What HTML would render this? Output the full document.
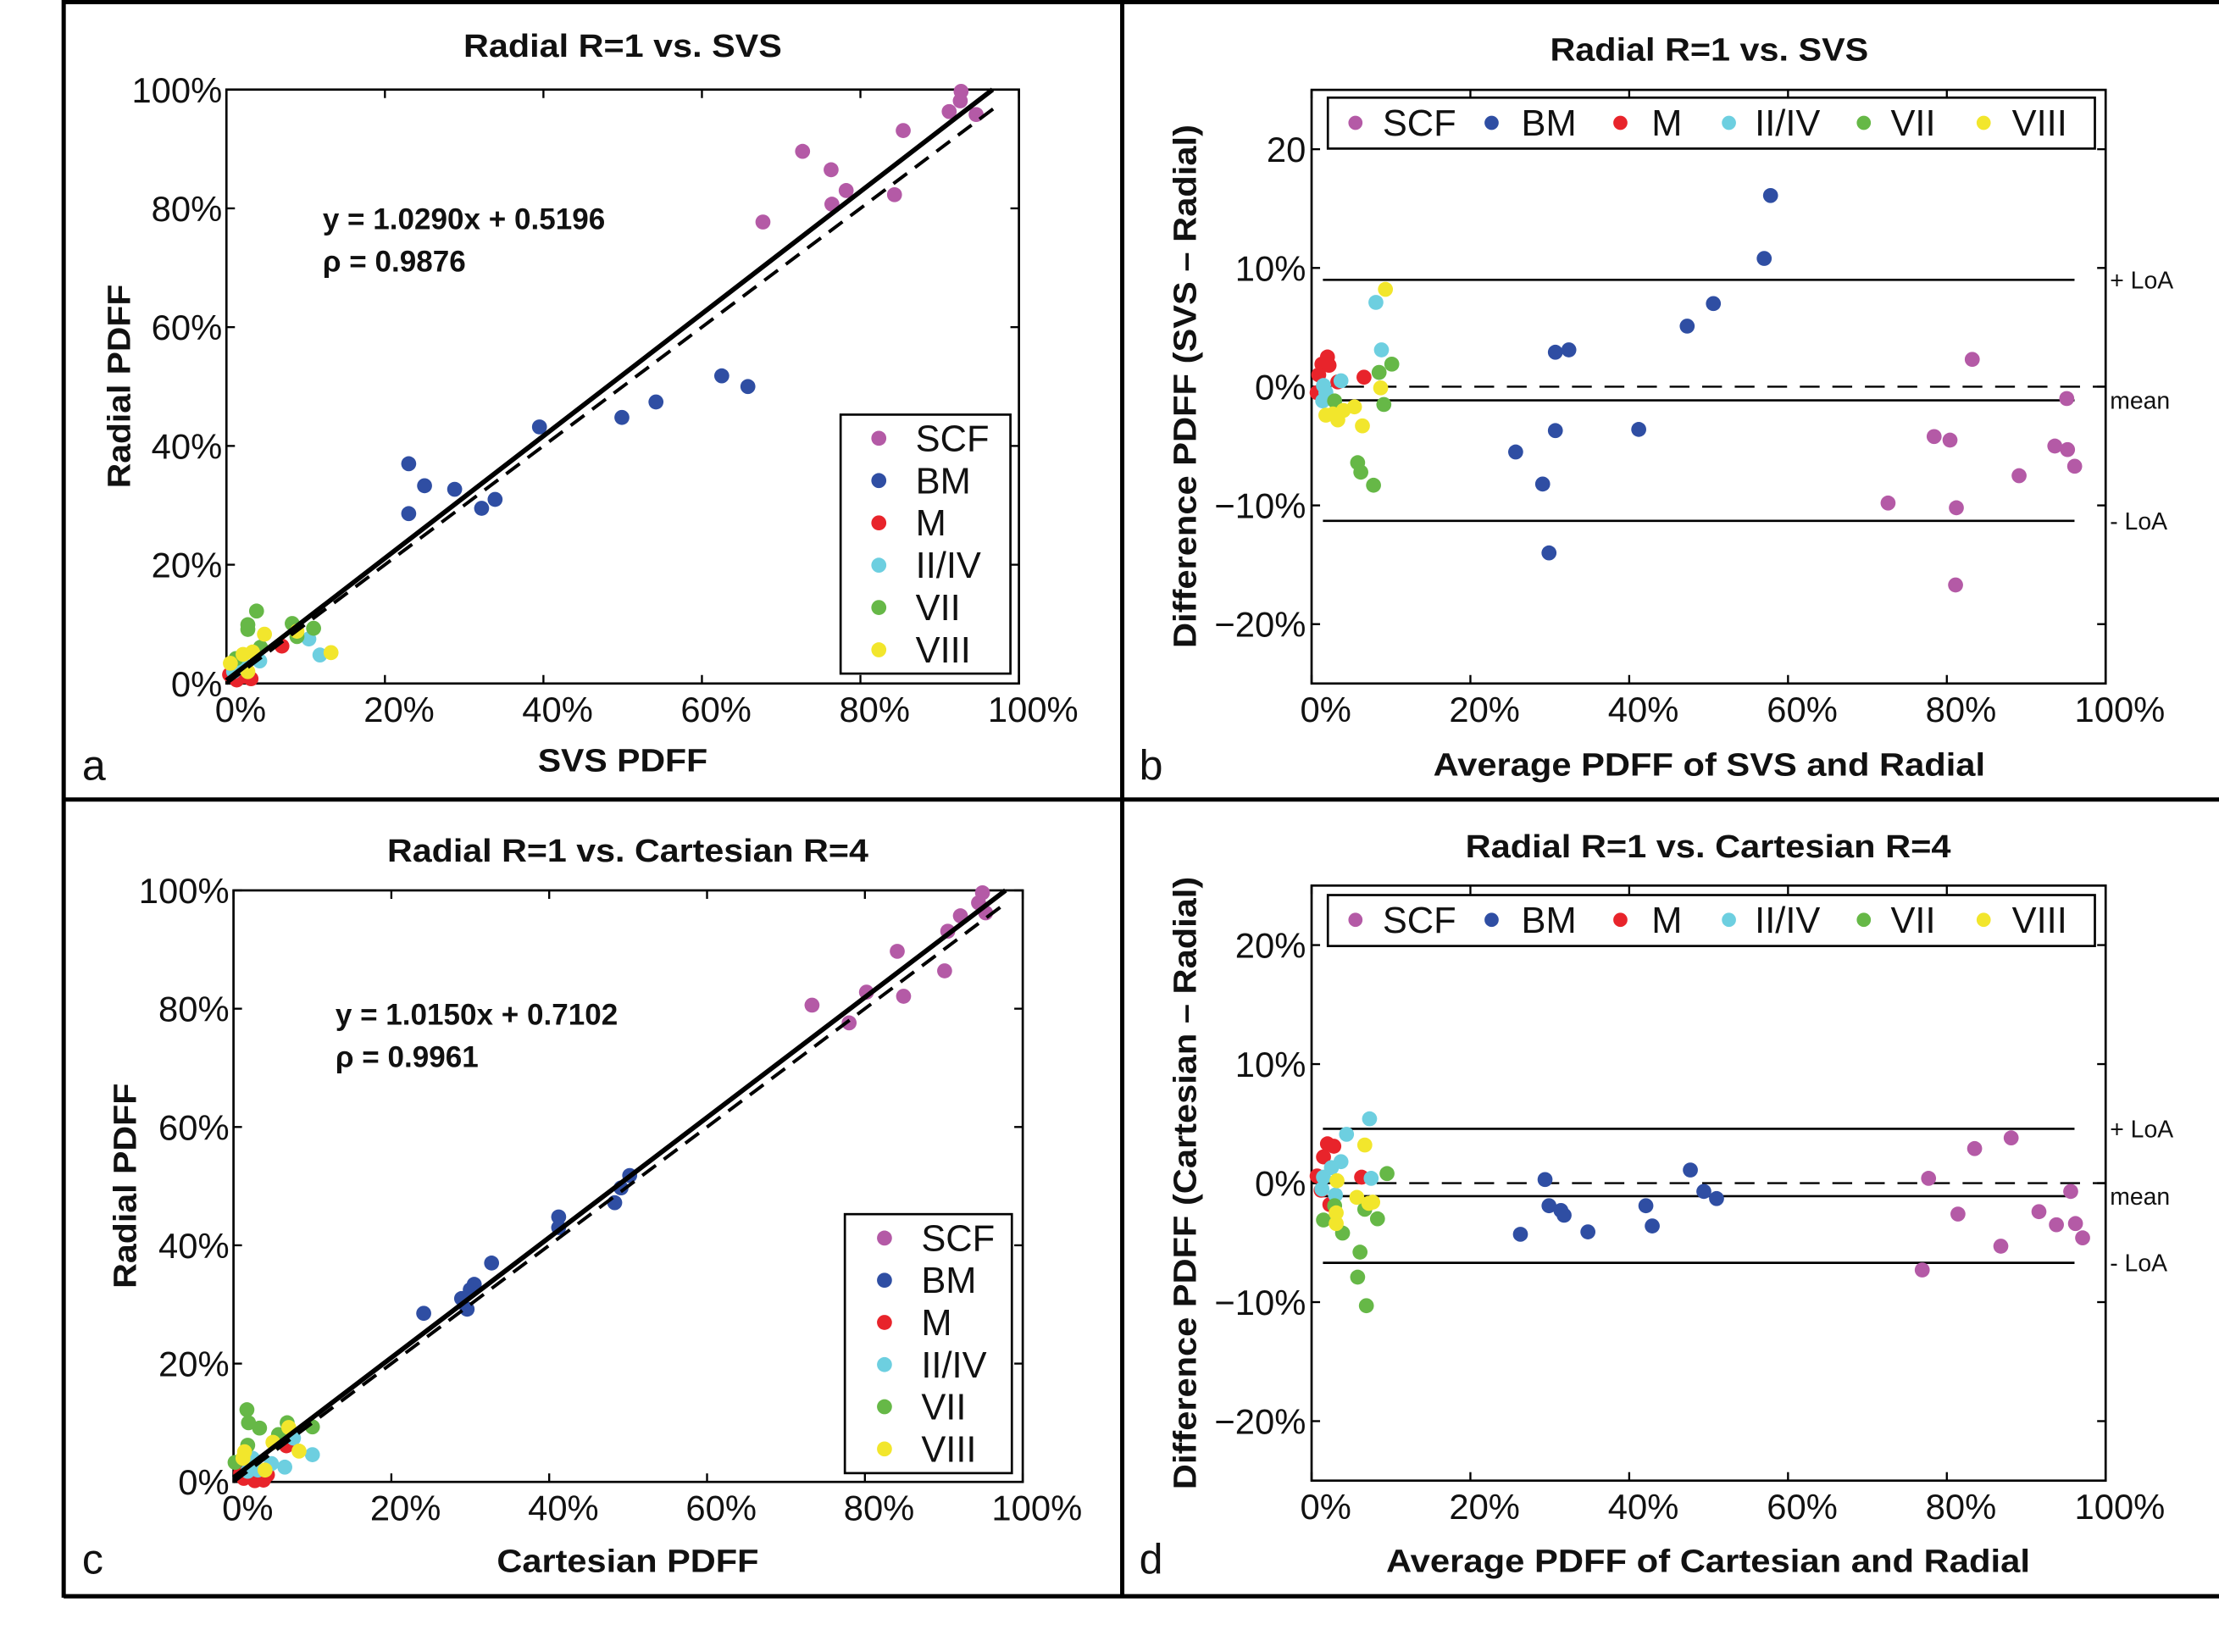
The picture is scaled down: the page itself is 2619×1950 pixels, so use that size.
<!DOCTYPE html>
<html><head><meta charset="utf-8">
<style>
html,body{margin:0;padding:0;background:#fff;}
svg{display:block;}
text{font-family:"Liberation Sans",sans-serif;fill:#111;}
.tick{font-size:25px;}
.title{font-size:23px;font-weight:bold;}
.axl{font-size:23px;font-weight:bold;}
.eq{font-size:21px;font-weight:bold;}
.leg{font-size:26px;}
.loa{font-size:17px;}
.pl{font-size:30px;}
</style></head>
<body>
<svg id="fig" width="2619" height="1950" viewBox="0 0 1568 1167.4" preserveAspectRatio="none" xmlns="http://www.w3.org/2000/svg">
<g stroke="#000" stroke-width="3" fill="none">
<line x1="45" y1="1.5" x2="1568" y2="1.5"/>
<line x1="45" y1="0" x2="45" y2="1129"/>
<line x1="45" y1="1128" x2="1568" y2="1128"/>
<line x1="793" y1="0" x2="793" y2="1129"/>
<line x1="45" y1="565" x2="1568" y2="565"/>
</g>
<g id="root"></g>
</svg>
<script>
// ---------- DATA ----------
const groups = ["SCF","BM","M","II/IV","VII","VIII"];
const groupColors = ["#b45aa6","#2f4ea3","#e8242b","#6dcfe0","#66b847","#f2e62c"];
const scatterTicks = [0,20,40,60,80,100];
const scatterTickLabels = ["0%","20%","40%","60%","80%","100%"];
const baTicksY = [-20,-10,0,10,20];
const baTickLabelsB = ["\u221220%","\u221210%","0%","10%","20"];
const baTickLabelsD = ["\u221220%","\u221210%","0%","10%","20%"];

// Panel a: SVS (x) vs Radial (y)
const aSCF = [[92.7,99.7],[92.6,98.1],[91.2,96.3],[94.6,95.8],[85.4,93.1],[72.7,89.6],[76.3,86.5],[78.2,83],[76.4,80.7],[84.3,82.3],[67.7,77.7]];
const aBM = [[23,37],[25,33.3],[28.8,32.7],[23,28.6],[32.2,29.5],[33.9,31],[39.5,43.2],[49.9,44.8],[54.2,47.4],[62.5,51.8],[65.8,50]];
const aM = [[7,6.3],[1.3,0.6],[3.1,0.8],[2.2,1.2],[0.4,1.5]];
const aII = [[10.4,7.5],[11.8,4.8],[4.2,3.8],[1.3,2.6],[0.9,2],[2.2,3.1]];
const aVII = [[3.8,12.2],[2.7,9.9],[2.7,9.1],[8.3,10.1],[11,9.3],[8.9,7.9],[4.3,6.1],[1.2,4.2]];
const aVIII = [[4.8,8.3],[13.2,5.2],[2.1,4.9],[3.3,5.3],[0.5,3.4],[8.9,8.8],[2.7,2]];
const aFit = [1.0290,0.5196];

// Panel b: mean (x) vs difference (y)
const bSCF = [[83.2,2.3],[95.1,-1],[78.4,-4.2],[80.4,-4.5],[93.6,-5],[95.2,-5.3],[96.1,-6.7],[89.1,-7.5],[72.6,-9.8],[81.2,-10.2],[81.1,-16.7]];
const bBM = [[57.8,16.1],[57,10.8],[50.6,7],[47.3,5.1],[30.7,2.9],[32.4,3.1],[30.7,-3.7],[41.2,-3.6],[25.7,-5.5],[29.1,-8.2],[29.9,-14]];
const bM = [[2,2.5],[1.3,1.9],[2.2,1.8],[0.9,1],[6.6,0.8],[0.7,-0.5],[3.3,0.4]];
const bII = [[8.1,7.1],[8.8,3.1],[3.7,0.5],[1.5,0.1],[1.8,-0.5],[1.4,-1.2]];
const bVII = [[10.1,1.9],[8.5,1.2],[9.1,-1.5],[5.8,-6.4],[6.2,-7.2],[7.8,-8.3],[2.9,-1.2]];
const bVIII = [[9.3,8.2],[8.7,-0.1],[1.8,-2.4],[3.3,-2.8],[4,-2],[5.4,-1.7],[6.4,-3.3],[2.7,-2.3]];
const bLines = [9.0,-1.15,-11.3]; // +LoA, mean, -LoA

// Panel c: Cartesian (x) vs Radial (y)
const cSCF = [[94.9,99.6],[94.4,97.9],[95.3,96.2],[92.1,95.7],[90.5,93.1],[84.1,89.7],[90.1,86.4],[80.2,82.8],[84.9,82.1],[73.3,80.6],[78,77.6]];
const cBM = [[32.7,37],[30.5,33.4],[30,32.5],[28.9,31],[29.6,29.2],[24.1,28.5],[41.2,44.8],[41.2,43],[48.3,47.2],[49.1,49.7],[50.2,51.8]];
const cM = [[6.7,6.1],[1.3,0.6],[2.7,0.2],[3.8,0.3],[4.3,1.2],[0.9,1.5]];
const cII = [[7.6,7.4],[10,4.6],[6.5,2.5],[4.8,3.1],[2.4,4],[1.8,1.8],[3.1,2]];
const cVII = [[1.7,12.2],[1.9,10],[3.3,9.1],[6.8,10],[10,9.3],[5.7,8],[1.8,6.2],[0.2,3.3]];
const cVIII = [[7,9.2],[5,6.7],[8.3,5.2],[1.4,5.1],[4,2],[1.2,4]];
const cFit = [1.0150,0.7102];

// Panel d
const dSCF = [[88.1,3.8],[83.5,2.9],[77.7,0.4],[95.6,-0.7],[81.4,-2.6],[91.6,-2.4],[93.8,-3.5],[96.2,-3.4],[97.1,-4.6],[86.8,-5.3],[76.9,-7.3]];
const dBM = [[47.7,1.1],[29.4,0.3],[49.4,-0.7],[51,-1.3],[29.9,-1.9],[31.4,-2.3],[31.8,-2.7],[42.1,-1.9],[42.9,-3.6],[34.8,-4.1],[26.3,-4.3]];
const dM = [[2,3.3],[2.8,3.1],[1.5,2.2],[0.7,0.6],[6.3,0.5],[1.2,-0.6],[2.3,-1.8]];
const dII = [[7.3,5.4],[4.4,4.1],[3.7,1.8],[2.5,1.3],[1.5,0.5],[7.5,0.4],[3,-1],[1.3,-0.5]];
const dVII = [[9.5,0.8],[6.7,-2.2],[8.3,-3],[1.5,-3.1],[3.9,-4.2],[6.1,-5.8],[5.8,-7.9],[6.9,-10.3],[2.9,-1.9]];
const dVIII = [[6.7,3.2],[3.2,0.2],[5.7,-1.2],[7.7,-1.6],[7.2,-1.7],[3.1,-2.5],[3.1,-3.4]];
const dLines = [4.56,-1.1,-6.7];

// ---------- DRAW ----------
const NS = "http://www.w3.org/2000/svg";
const root = document.getElementById("root");
function mk(tag, attrs, parent, txt){
  const e = document.createElementNS(NS, tag);
  for (const k in attrs) e.setAttribute(k, attrs[k]);
  if (txt !== undefined) e.textContent = txt;
  (parent||root).appendChild(e);
  return e;
}
function makeScale(d0,d1,r0,r1){ return v => r0 + (v-d0)/(d1-d0)*(r1-r0); }

function frameAxes(g, G, xs, ys, xt, xl, yt, yl, xOff, yRight){
  const box = mk("rect",{x:G.x0,y:G.y1,width:G.x1-G.x0,height:G.y0-G.y1,fill:"none",stroke:"#000","stroke-width":1.6},g);
  
  
  xt.forEach((v,i)=>{
    const x = xs(v);
    mk("line",{x1:x,y1:G.y0,x2:x,y2:G.y0-6,stroke:"#000","stroke-width":1.4},g);
    mk("line",{x1:x,y1:G.y1,x2:x,y2:G.y1+6,stroke:"#000","stroke-width":1.4},g);
    const t = mk("text",{x:x+xOff,y:G.y0+27,"text-anchor":"middle",class:"tick"},g,xl[i]);
    
    
  });
  yt.forEach((v,i)=>{
    const y = ys(v);
    mk("line",{x1:G.x0,y1:y,x2:G.x0+6,y2:y,stroke:"#000","stroke-width":1.4},g);
    mk("line",{x1:G.x1,y1:y,x2:G.x1-6,y2:y,stroke:"#000","stroke-width":1.4},g);
    const t = mk("text",{x:yRight,y:y+9,"text-anchor":"end",class:"tick"},g,yl[i]);
    
    
  });
}
function drawPoints(g, sets, xs, ys){
  sets.forEach((arr,gi)=>{
    const sg = mk("g",{},g);
    
    
    arr.forEach(p=>{
      const c = mk("circle",{cx:xs(p[0]),cy:ys(p[1]),r:5.3,fill:groupColors[gi]},sg);
      
      
    });
  });
}
function labels(g, T){
  const t1 = mk("text",{x:T.tx,y:T.ty,"text-anchor":"middle",class:"title",textLength:T.tw,lengthAdjust:"spacingAndGlyphs"},g,T.title);
  
  
  const t2 = mk("text",{x:T.xx,y:T.xy,"text-anchor":"middle",class:"axl",textLength:T.xw,lengthAdjust:"spacingAndGlyphs"},g,T.xlab);
  
  
  const t3 = mk("text",{x:0,y:0,"text-anchor":"middle",class:"axl",textLength:T.yw,lengthAdjust:"spacingAndGlyphs",transform:`translate(${T.yx},${T.yy}) rotate(-90)`},g,T.ylab);
  
  
  const t4 = mk("text",{x:T.px,y:T.py,class:"pl"},g,T.plab);
  
  
}

function scatterPanel(name, G, sets, fit, eq, T, L){
  const g = mk("g",{});
  
  
  const xs = makeScale(0,100,G.x0,G.x1), ys = makeScale(0,100,G.y0,G.y1);
  frameAxes(g,G,xs,ys,scatterTicks,scatterTickLabels,scatterTicks,scatterTickLabels,10,G.x0-3);
  drawPoints(g,sets,xs,ys);
  const idEnd = 97.5;
  const dl = mk("line",{x1:xs(0),y1:ys(0),x2:xs(idEnd),y2:ys(idEnd),stroke:"#000","stroke-width":2.4,"stroke-dasharray":"12,7"},g);
  
  
  const xe = (100-fit[1])/fit[0];
  const fl = mk("line",{x1:xs(0),y1:ys(fit[1]),x2:xs(xe),y2:ys(100),stroke:"#000","stroke-width":3.4},g);
  
  
  const e1 = mk("text",{x:eq.x,y:eq.y,class:"eq"},g,`y = ${fit[0].toFixed(4)}x + ${fit[1].toFixed(4)}`);
  
  
  const e2 = mk("text",{x:eq.x,y:eq.y+30,class:"eq"},g,eq.rho);
  
  
  labels(g,T);
  const lg = mk("g",{},g);
  
  
  mk("rect",{x:L.x0,y:L.y0,width:L.w,height:L.h,fill:"#fff",stroke:"#000","stroke-width":1.6},lg);
  groups.forEach((nm,i)=>{
    const y = L.ey + i*L.step;
    const it = mk("g",{},lg);
    
    
    mk("circle",{cx:L.mx,cy:y,r:5.3,fill:groupColors[i]},it);
    mk("text",{x:L.tx,y:y+9,class:"leg"},it,nm);
  });
}

function baPanel(name, G, sets, lines, yl, T, L){
  const g = mk("g",{});
  
  
  const xs = makeScale(0,100,G.x0,G.x1), ys = makeScale(-25,25,G.y0,G.y1);
  frameAxes(g,G,xs,ys,scatterTicks,scatterTickLabels,baTicksY,yl,10,G.x0-4);
  const lx0 = G.x0+8, lx1 = G.x1-22;
  const z = mk("line",{x1:G.x0,y1:ys(0),x2:G.x1,y2:ys(0),stroke:"#000","stroke-width":1.4,"stroke-dasharray":"14,9"},g);
  
  
  const names = ['upper-loa-line','mean-line','lower-loa-line'];
  const txts = ['+ LoA','mean','- LoA'];
  lines.forEach((v,i)=>{
    const l = mk("line",{x1:lx0,y1:ys(v),x2:lx1,y2:ys(v),stroke:"#000","stroke-width":1.6},g);
    
    
    const t = mk("text",{x:G.x1+3,y:ys(v)+6,class:"loa"},g,txts[i]);
    
    
  });
  drawPoints(g,sets,xs,ys);
  labels(g,T);
  const lg = mk("g",{},g);
  
  
  mk("rect",{x:L.x0,y:L.y0,width:L.w,height:L.h,fill:"#fff",stroke:"#000","stroke-width":1.6},lg);
  const mxs=[957.8,1054,1145,1221.7,1317,1401.7], txs=[977,1075,1167,1240,1336,1421.7];
  groups.forEach((nm,i)=>{
    const it = mk("g",{},lg);
    
    
    mk("circle",{cx:mxs[i],cy:L.cy,r:5,fill:groupColors[i]},it);
    mk("text",{x:txs[i],y:L.cy+9,class:"leg"},it,nm);
  });
}

scatterPanel("panel-a-scatter",{x0:160,x1:720,y0:483,y1:63.3},[aSCF,aBM,aM,aII,aVII,aVIII],aFit,
  {x:228,y:162,rho:"\u03C1 = 0.9876"},
  {title:"Radial R=1 vs. SVS",tx:440,ty:40,tw:225,xlab:"SVS PDFF",xx:440,xy:545,xw:120,ylab:"Radial PDFF",yx:92,yy:273,yw:144,plab:"a",px:58,py:551},
  {x0:594,y0:293,w:120,h:183,ey:309.7,step:29.9,mx:621,tx:647});
baPanel("panel-b-bland-altman",{x0:926.8,x1:1487.9,y0:483,y1:63.5},[bSCF,bBM,bM,bII,bVII,bVIII],bLines,baTickLabelsB,
  {title:"Radial R=1 vs. SVS",tx:1207.8,ty:42.8,tw:225,xlab:"Average PDFF of SVS and Radial",xx:1207.8,xy:548,xw:390,ylab:"Difference PDFF (SVS \u2013 Radial)",yx:845,yy:273,yw:370,plab:"b",px:805,py:551},
  {x0:938.3,y0:69,w:542,h:36,cy:86.8});
scatterPanel("panel-c-scatter",{x0:165,x1:722.7,y0:1047.2,y1:629.2},[cSCF,cBM,cM,cII,cVII,cVIII],cFit,
  {x:237,y:724,rho:"\u03C1 = 0.9961"},
  {title:"Radial R=1 vs. Cartesian R=4",tx:443.6,ty:609,tw:340,xlab:"Cartesian PDFF",xx:443.6,xy:1110.7,xw:185,ylab:"Radial PDFF",yx:96,yy:838,yw:145,plab:"c",px:58,py:1112},
  {x0:597,y0:858,w:118,h:183,ey:874.9,step:29.8,mx:625,tx:651});
baPanel("panel-d-bland-altman",{x0:926.8,x1:1487.9,y0:1046.3,y1:625.8},[dSCF,dBM,dM,dII,dVII,dVIII],dLines,baTickLabelsD,
  {title:"Radial R=1 vs. Cartesian R=4",tx:1207,ty:606,tw:343,xlab:"Average PDFF of Cartesian and Radial",xx:1207,xy:1110.7,xw:455,ylab:"Difference PDFF (Cartesian \u2013 Radial)",yx:845,yy:836,yw:433,plab:"d",px:805,py:1112},
  {x0:938.3,y0:632.5,w:542,h:36,cy:650});
</script>
</body></html>
